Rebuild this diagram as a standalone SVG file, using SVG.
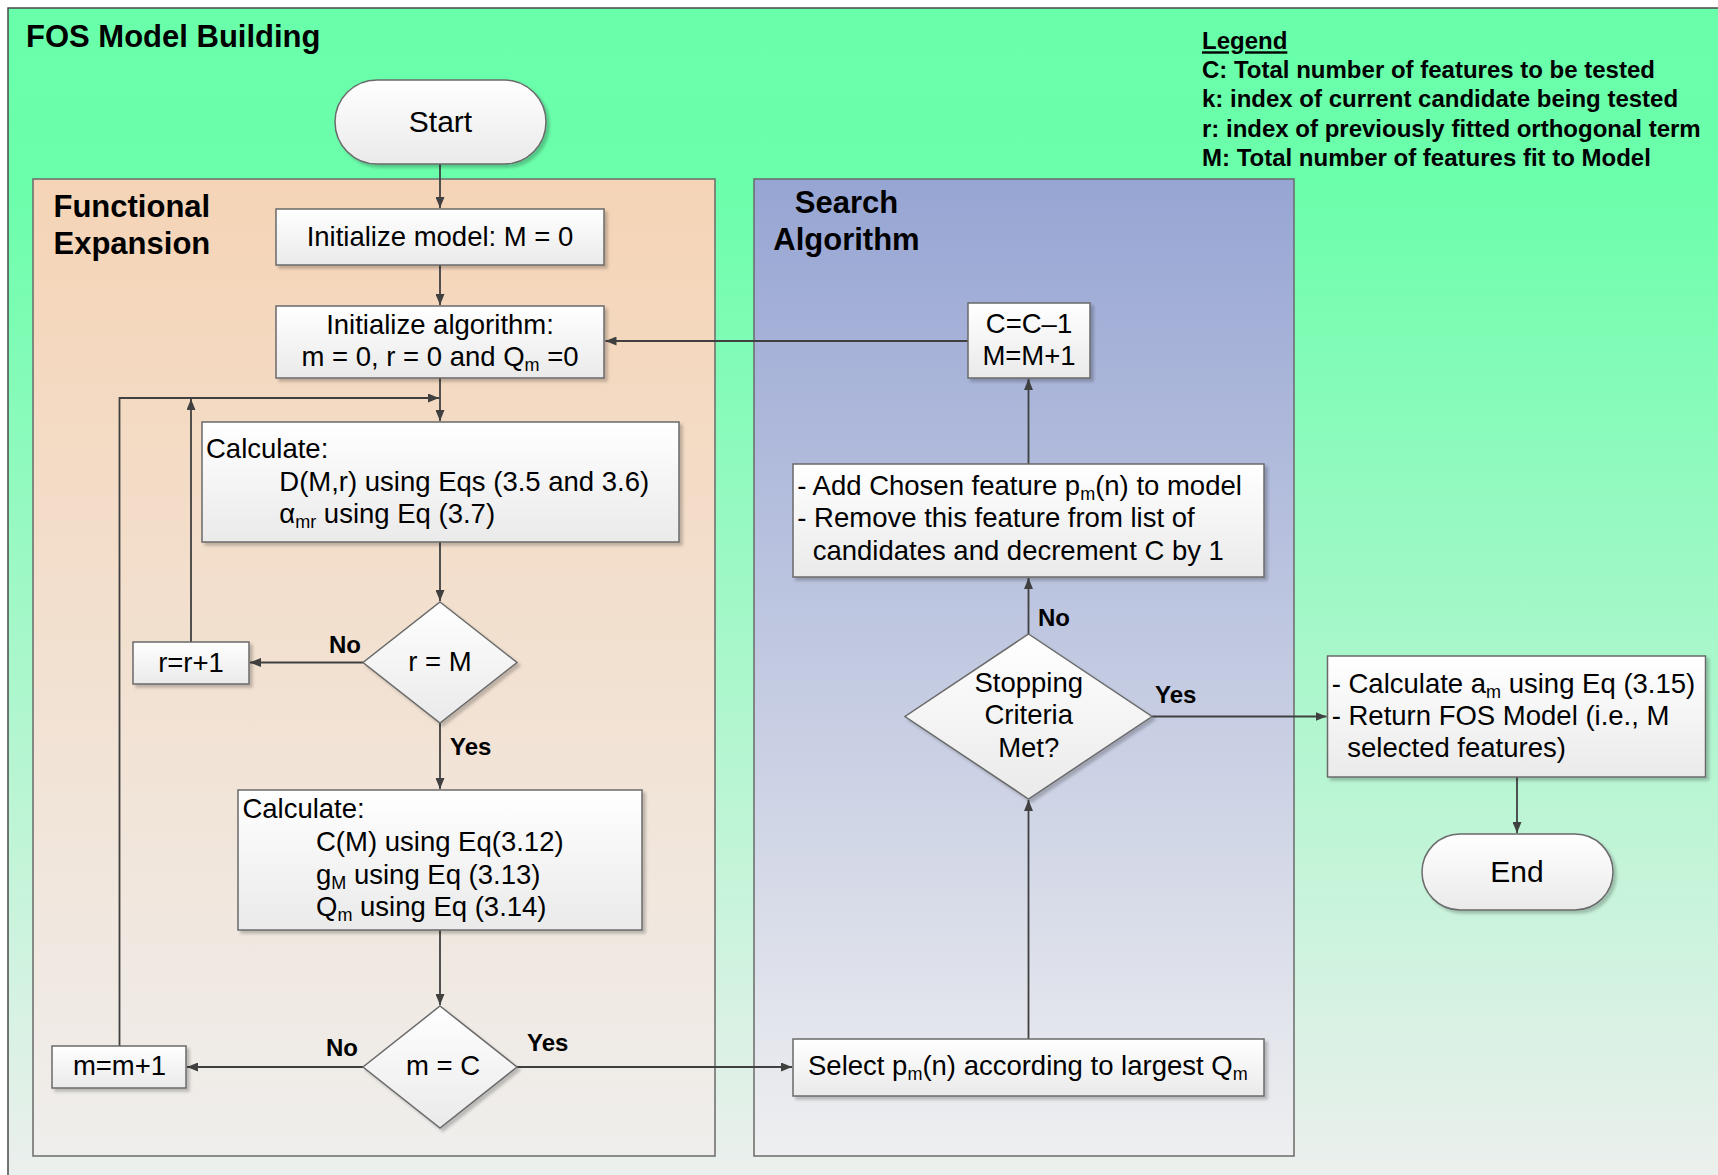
<svg xmlns="http://www.w3.org/2000/svg" width="1718" height="1175" viewBox="0 0 1718 1175">
  <defs>
    <linearGradient id="bgGrad" x1="0" y1="0" x2="0" y2="1">
      <stop offset="0" stop-color="#69FFAA"/>
      <stop offset="0.15" stop-color="#6BFEAB"/>
      <stop offset="1" stop-color="#EFEFEF"/>
    </linearGradient>
    <linearGradient id="peachGrad" x1="0" y1="0" x2="0" y2="1">
      <stop offset="0" stop-color="#F5D4B6"/>
      <stop offset="1" stop-color="#EFEEEC"/>
    </linearGradient>
    <linearGradient id="blueGrad" x1="0" y1="0" x2="0" y2="1">
      <stop offset="0" stop-color="#97A5D3"/>
      <stop offset="1" stop-color="#EEEFF0"/>
    </linearGradient>
    <linearGradient id="shapeGrad" x1="0" y1="0" x2="0" y2="1">
      <stop offset="0" stop-color="#FFFFFF"/>
      <stop offset="1" stop-color="#EAEAEA"/>
    </linearGradient>
    <filter id="shadow" x="-10%" y="-10%" width="130%" height="130%">
      <feDropShadow dx="3" dy="3" stdDeviation="1.5" flood-color="#000" flood-opacity="0.22"/>
    </filter>
    <marker id="arrow" viewBox="0 0 11 9" refX="11" refY="4.5" markerWidth="11" markerHeight="9" markerUnits="userSpaceOnUse" orient="auto">
      <path d="M0,0 L11,4.5 L0,9 z" fill="#404040"/>
    </marker>
    <style>
      text { font-family: "Liberation Sans", Arial, sans-serif; fill: #000; }
      .title { font-size: 31px; font-weight: bold; }
      .legend { font-size: 24px; font-weight: bold; }
      .body { font-size: 27.5px; }
      .term { font-size: 30px; }
      .lbl { font-size: 24px; font-weight: bold; }
      .mid { text-anchor: middle; }
      .sub { font-size: 18px; }
      .shape { fill: url(#shapeGrad); stroke: #6A6A6A; stroke-width: 1.5; filter: url(#shadow); }
      .panel { stroke: #6A6A6A; stroke-width: 1.5; }
      .conn { fill: none; stroke: #404040; stroke-width: 1.8; }
    </style>
  </defs>

  <!-- background frame -->
  <rect x="8" y="8" width="1730" height="1190" fill="url(#bgGrad)" stroke="#4A4A4A" stroke-width="1.5"/>
  <text class="title" x="26" y="46.5">FOS Model Building</text>

  <!-- legend -->
  <g id="legend">
    <text class="legend" x="1202" y="49.3" text-decoration="underline">Legend</text>
    <text class="legend" x="1202" y="78.3">C: Total number of features to be tested</text>
    <text class="legend" x="1202" y="107.3">k: index of current candidate being tested</text>
    <text class="legend" x="1202" y="136.5">r: index of previously fitted orthogonal term</text>
    <text class="legend" x="1202" y="165.5">M: Total number of features fit to Model</text>
  </g>

  <!-- swimlane panels -->
  <g id="panel-functional">
    <rect class="panel" x="33" y="179" width="682" height="977" fill="url(#peachGrad)"/>
    <text class="title" x="53.5" y="217">Functional</text>
    <text class="title" x="53.5" y="254">Expansion</text>
  </g>
  <g id="panel-search">
    <rect class="panel" x="754" y="179" width="540" height="977" fill="url(#blueGrad)"/>
    <text class="title mid" x="846.5" y="212.5">Search</text>
    <text class="title mid" x="846.5" y="250">Algorithm</text>
  </g>

  <!-- connectors -->
  <g id="connectors">
    <path class="conn" d="M440,164 V208" marker-end="url(#arrow)"/>
    <path class="conn" d="M440,265 V305" marker-end="url(#arrow)"/>
    <path class="conn" d="M440,378 V421" marker-end="url(#arrow)"/>
    <path class="conn" d="M119.5,1046 V398 H439" marker-end="url(#arrow)"/>
    <path class="conn" d="M191,642 V399" marker-end="url(#arrow)"/>
    <path class="conn" d="M440,542 V601" marker-end="url(#arrow)"/>
    <path class="conn" d="M363,662.5 H250" marker-end="url(#arrow)"/>
    <path class="conn" d="M440,723 V789" marker-end="url(#arrow)"/>
    <path class="conn" d="M440,930 V1005" marker-end="url(#arrow)"/>
    <path class="conn" d="M363,1067 H187" marker-end="url(#arrow)"/>
    <path class="conn" d="M517,1067 H792" marker-end="url(#arrow)"/>
    <path class="conn" d="M1028.5,1039 V800" marker-end="url(#arrow)"/>
    <path class="conn" d="M1028.5,634 V578" marker-end="url(#arrow)"/>
    <path class="conn" d="M1152,716.5 H1326.5" marker-end="url(#arrow)"/>
    <path class="conn" d="M1028.5,464 V379" marker-end="url(#arrow)"/>
    <path class="conn" d="M968,341 H605.5" marker-end="url(#arrow)"/>
    <path class="conn" d="M1517,777 V833" marker-end="url(#arrow)"/>
  </g>

  <!-- connector labels -->
  <g id="labels">
    <text class="lbl" x="329" y="652.7">No</text>
    <text class="lbl" x="450" y="755">Yes</text>
    <text class="lbl" x="326" y="1055.7">No</text>
    <text class="lbl" x="527" y="1051">Yes</text>
    <text class="lbl" x="1038" y="625.7">No</text>
    <text class="lbl" x="1155" y="703.3">Yes</text>
  </g>

  <!-- nodes -->
  <g id="start">
    <rect class="shape" x="335" y="80" width="211" height="84" rx="42" ry="42"/>
    <text class="term mid" x="440.5" y="132.3">Start</text>
  </g>

  <g id="init-model">
    <rect class="shape" x="276" y="209" width="328" height="56"/>
    <text class="body mid" x="440" y="246">Initialize model: M = 0</text>
  </g>

  <g id="init-algorithm">
    <rect class="shape" x="276" y="306" width="328" height="72"/>
    <text class="body mid" x="440" y="333.5">Initialize algorithm:</text>
    <text class="body mid" x="440" y="366">m = 0, r = 0 and Q<tspan class="sub" dy="5">m</tspan><tspan dy="-5"> =0</tspan></text>
  </g>

  <g id="calc-d">
    <rect class="shape" x="202" y="422" width="477" height="120"/>
    <text class="body" x="206" y="457.7">Calculate:</text>
    <text class="body" x="279.3" y="490.7">D(M,r) using Eqs (3.5 and 3.6)</text>
    <text class="body" x="279.3" y="523.3">α<tspan class="sub" dy="5">mr</tspan><tspan dy="-5"> using Eq (3.7)</tspan></text>
  </g>

  <g id="dec-r">
    <polygon class="shape" points="440,602 517,662.5 440,723 363,662.5"/>
    <text class="body mid" x="440" y="671">r = M</text>
  </g>

  <g id="inc-r">
    <rect class="shape" x="133" y="642" width="116" height="42"/>
    <text class="body mid" x="191" y="672">r=r+1</text>
  </g>

  <g id="calc-c">
    <rect class="shape" x="238" y="790" width="404" height="140"/>
    <text class="body" x="242.4" y="818.3">Calculate:</text>
    <text class="body" x="316" y="851">C(M) using Eq(3.12)</text>
    <text class="body" x="316" y="883.5">g<tspan class="sub" dy="5">M</tspan><tspan dy="-5"> using Eq (3.13)</tspan></text>
    <text class="body" x="316" y="916">Q<tspan class="sub" dy="5">m</tspan><tspan dy="-5"> using Eq (3.14)</tspan></text>
  </g>

  <g id="dec-m">
    <polygon class="shape" points="440,1006 517,1067 440,1128 363,1067"/>
    <text class="body mid" x="443" y="1075">m = C</text>
  </g>

  <g id="inc-m">
    <rect class="shape" x="52" y="1046" width="134" height="42"/>
    <text class="body mid" x="119.5" y="1075">m=m+1</text>
  </g>

  <g id="select">
    <rect class="shape" x="793" y="1039" width="471" height="57"/>
    <text class="body" x="808" y="1075">Select p<tspan class="sub" dy="5">m</tspan><tspan dy="-5">(n) according to largest Q</tspan><tspan class="sub" dy="5">m</tspan></text>
  </g>

  <g id="stopping">
    <polygon class="shape" points="1028.5,634 1152,716.5 1028.5,799 905,716.5"/>
    <text class="body mid" x="1028.7" y="691.7">Stopping</text>
    <text class="body mid" x="1028.7" y="724">Criteria</text>
    <text class="body mid" x="1028.7" y="756.7">Met?</text>
  </g>

  <g id="add-feature">
    <rect class="shape" x="793" y="464" width="471" height="113"/>
    <text class="body" x="797.3" y="495">- Add Chosen feature p<tspan class="sub" dy="5">m</tspan><tspan dy="-5">(n) to model</tspan></text>
    <text class="body" x="797.3" y="527.3">- Remove this feature from list of</text>
    <text class="body" x="812.7" y="560">candidates and decrement C by 1</text>
  </g>

  <g id="update-counts">
    <rect class="shape" x="968" y="303" width="122" height="75"/>
    <text class="body mid" x="1029" y="333.3">C=C–1</text>
    <text class="body mid" x="1029" y="365">M=M+1</text>
  </g>

  <g id="finalize">
    <rect class="shape" x="1327.5" y="656" width="378" height="121"/>
    <text class="body" x="1331.7" y="692.7">- Calculate a<tspan class="sub" dy="5">m</tspan><tspan dy="-5"> using Eq (3.15)</tspan></text>
    <text class="body" x="1331.7" y="725">- Return FOS Model (i.e., M</text>
    <text class="body" x="1347.3" y="757.3">selected features)</text>
  </g>

  <g id="end">
    <rect class="shape" x="1422" y="834" width="191" height="76" rx="38" ry="38"/>
    <text class="term mid" x="1517" y="882">End</text>
  </g>
</svg>
